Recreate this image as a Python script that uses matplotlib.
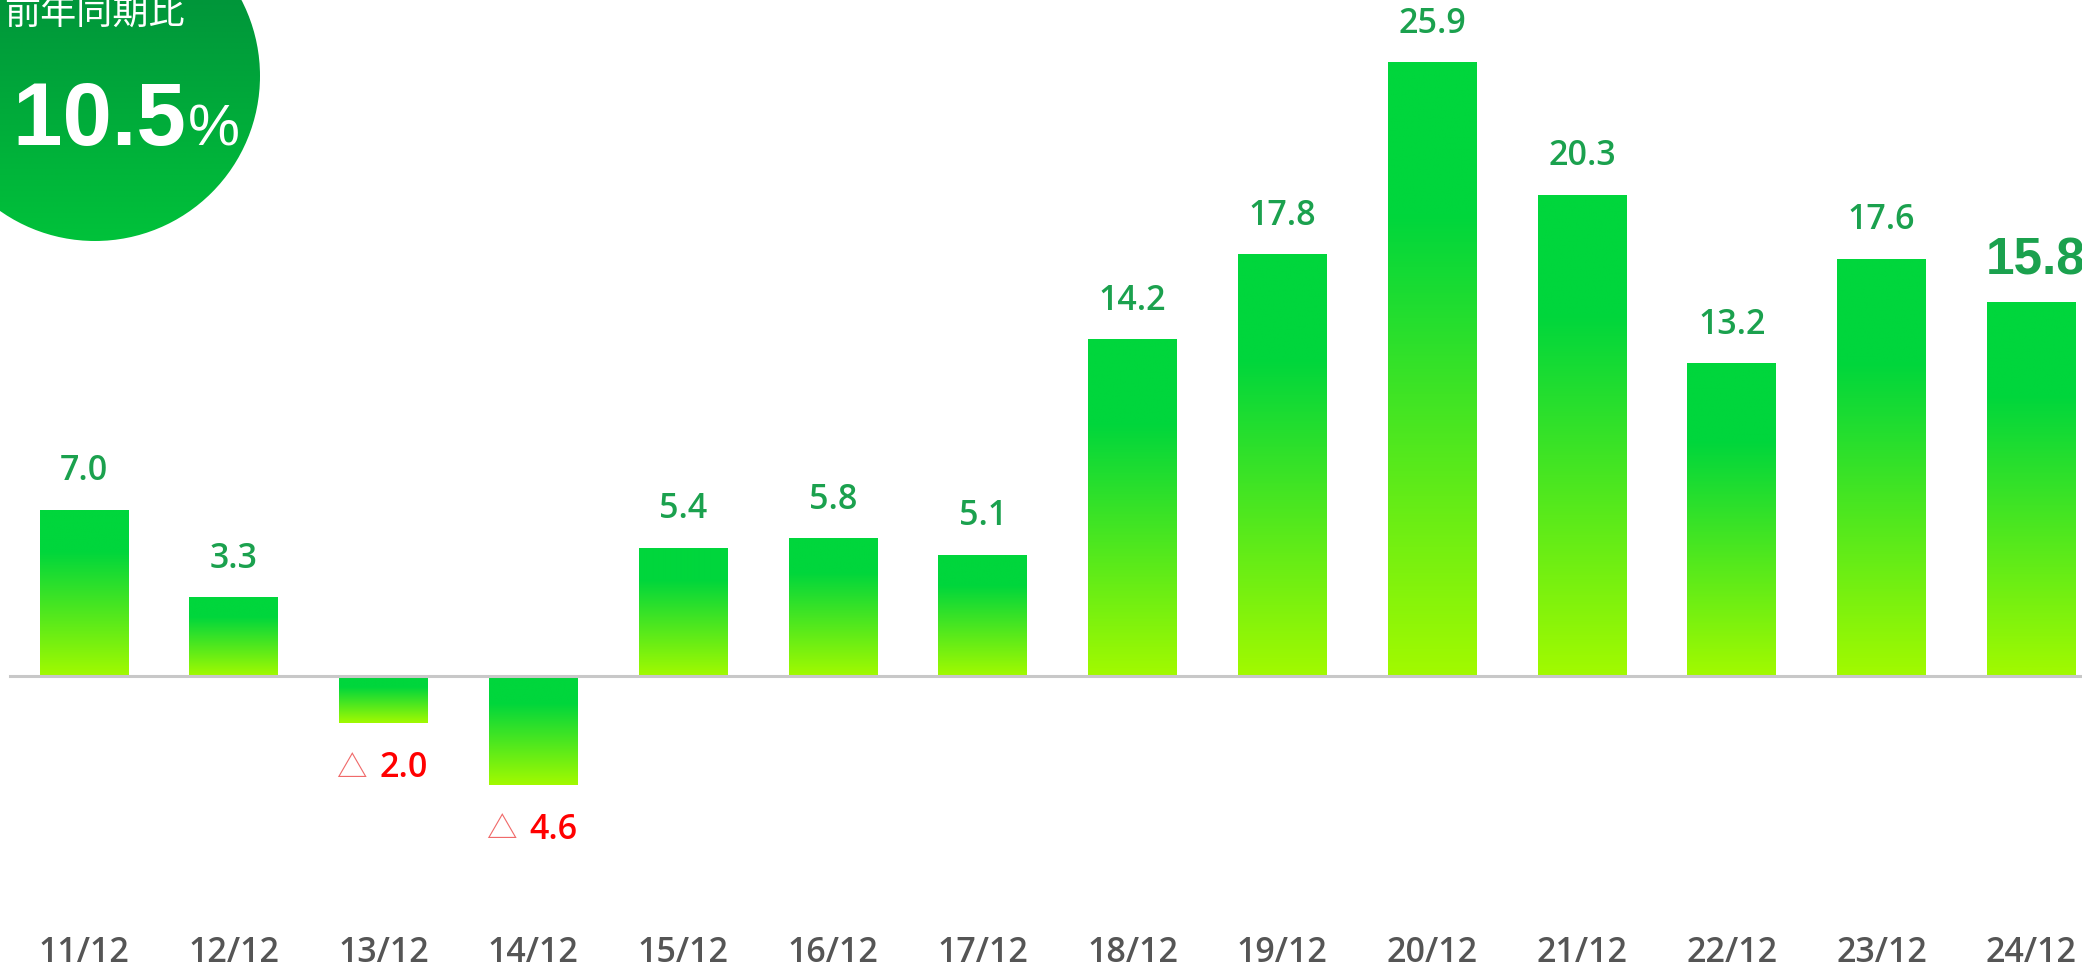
import numpy as np
import matplotlib
matplotlib.use("Agg")
import matplotlib.pyplot as plt
from matplotlib.colors import LinearSegmentedColormap
from matplotlib.patches import Circle

# data
years = ["11/12", "12/12", "13/12", "14/12", "15/12", "16/12", "17/12",
         "18/12", "19/12", "20/12", "21/12", "22/12", "23/12", "24/12"]
values = [7.0, 3.3, -2.0, -4.6, 5.4, 5.8, 5.1,
          14.2, 17.8, 25.9, 20.3, 13.2, 17.6, 15.8]
badge_title = "前年同期比"
badge_value = "▲10.5"

W, H = 2082, 970
fig = plt.figure(figsize=(W / 100, H / 100), dpi=100)
ax = fig.add_axes([0, 0, 1, 1])
ax.set_axis_off()

step = 149.8          # px between bars
x0 = 84               # px of first bar centre
ppu = 23.67           # px per unit
base = 677            # px of zero line
ax.set_xlim(-x0 / step, (W - x0) / step)
ax.set_ylim(-(H - base) / ppu, base / ppu)

bar_w = 0.594
green = "#1ba14e"
lab_font = "Open Sans"
fs = 24.5
cmap = LinearSegmentedColormap.from_list(
    "bar", [(0, "#00d63c"), (0.25, "#00d63c"), (1, "#a2fa00")])
grad = np.linspace(0, 1, 256).reshape(-1, 1)

for i, v in enumerate(values):
    top, bot = (v, 0) if v > 0 else (0, v)
    ax.imshow(grad, cmap=cmap, aspect="auto", origin="upper",
              extent=[i - bar_w / 2, i + bar_w / 2, bot, top],
              interpolation="bilinear", zorder=2)
    if i == len(values) - 1:
        # latest year, bigger label (runs off the right edge like the original)
        ax.text(i + 4 / step, v + 42 / ppu, f"{v:.1f}", ha="center",
                va="center", fontsize=37, fontweight="bold",
                family="Liberation Sans", color=green, zorder=4)
    elif v > 0:
        ax.text(i, v + 40 / ppu, f"{v:.1f}", ha="center", va="center",
                fontsize=fs, fontweight="semibold", family=lab_font,
                color=green, zorder=4)
    else:
        y = v - 44 / ppu
        ax.text(i - 17 / step, y, "△", ha="right", va="center",
                fontsize=22, family=["Noto Sans CJK JP", "DejaVu Sans"],
                color="#f06a6a", zorder=4)
        ax.text(i - 4 / step, y, f"{abs(v):.1f}", ha="left", va="center",
                fontsize=fs, fontweight="semibold", family=lab_font,
                color="#ff0000", zorder=4)
    ax.text(i, -(953 - base) / ppu, years[i], ha="center", va="center",
            fontsize=fs, fontweight="semibold", family=lab_font,
            color="#555555")

ax.axhline(0, xmin=10 / W, xmax=1, color="#c8c8c8", lw=2.2, zorder=3)

# badge in pixel coordinates
ov = fig.add_axes([0, 0, 1, 1])
ov.set_axis_off()
cx, cy, r = 95, 77, 165
circ = Circle((cx, cy), r, facecolor="none", edgecolor="none")
ov.add_patch(circ)
bcmap = LinearSegmentedColormap.from_list("badge", ["#00863a", "#00c23a"])
img = ov.imshow(np.linspace(0, 1, 256).reshape(-1, 1), cmap=bcmap,
                aspect="auto", extent=[cx - r, cx + r, cy + r, cy - r],
                interpolation="bilinear")
img.set_clip_path(circ)
ov.set_xlim(0, W)
ov.set_ylim(H, 0)
ov.text(185, 14, badge_title, ha="right", va="center", fontsize=26,
        family=["Noto Sans CJK JP", "DejaVu Sans"], color="white")
ov.text(186, 145, badge_value, ha="right", va="baseline", fontsize=64,
        fontweight="bold", family=["Liberation Sans", "DejaVu Sans"],
        color="white")
ov.text(188, 145, "%", ha="left", va="baseline", fontsize=42,
        family="Liberation Sans", color="white")

fig.savefig("out.png", dpi=100)
